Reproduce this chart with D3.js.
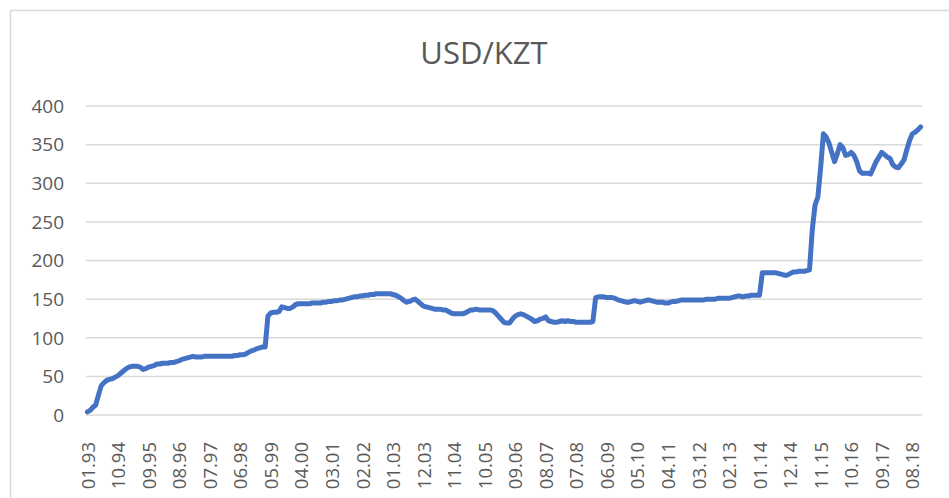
<!DOCTYPE html>
<html>
<head>
<meta charset="utf-8">
<script src="https://cdn.jsdelivr.net/npm/d3@7"></script>
<style>
  body { margin: 0; background: #fff; }
  text { font-family: "Open Sans", sans-serif; fill: #595959; }
</style>
</head>
<body>
<div id="chart"></div>
<script>
var title = "USD/KZT";

// one label every 11 months, first label on the first point
var tickLabels = ["01.93", "10.94", "09.95", "08.96", "07.97", "06.98", "05.99", "04.00",
    "03.01", "02.02", "01.03", "12.03", "11.04", "10.05", "09.06", "08.07", "07.08",
    "06.09", "05.10", "04.11", "03.12", "02.13", "01.14", "12.14", "11.15", "10.16",
    "09.17", "08.18"];
var tickStep = 11;

var yTicks = [0, 50, 100, 150, 200, 250, 300, 350, 400];

// monthly rate, one row per label interval
var rate = [
    4, 6, 10, 13, 26, 38, 42, 45, 46, 47, 49,
    51, 54, 57, 60, 62, 63, 63, 63, 62, 59, 60,
    62, 63, 64, 66, 66, 67, 67, 67, 68, 68, 69,
    70, 72, 73, 74, 75, 76, 75, 75, 75, 76, 76,
    76, 76, 76, 76, 76, 76, 76, 76, 76, 77, 77,
    78, 78, 79, 81, 83, 84, 86, 87, 88, 88, 128,
    132, 133, 133, 134, 140, 139, 138, 138, 140, 143, 144,
    144, 144, 144, 144, 145, 145, 145, 145, 146, 146, 147,
    147, 148, 148, 149, 149, 150, 151, 152, 153, 153, 154,
    154, 155, 155, 156, 156, 157, 157, 157, 157, 157, 157,
    156, 155, 153, 151, 148, 146, 147, 149, 150, 147, 144,
    141, 140, 139, 138, 137, 137, 137, 136, 136, 134, 132,
    131, 131, 131, 131, 132, 134, 136, 136, 137, 136, 136,
    136, 136, 136, 135, 132, 128, 124, 120, 119, 119, 124,
    128, 130, 131, 130, 128, 126, 124, 121, 122, 124, 125,
    127, 122, 121, 120, 120, 121, 122, 121, 122, 121, 121,
    120, 120, 120, 120, 120, 120, 121, 152, 153, 153, 153,
    152, 152, 152, 151, 149, 148, 147, 146, 146, 147, 148,
    147, 146, 147, 148, 149, 148, 147, 146, 146, 146, 145,
    145, 146, 147, 147, 148, 149, 149, 149, 149, 149, 149,
    149, 149, 149, 150, 150, 150, 150, 151, 151, 151, 151,
    151, 152, 153, 154, 154, 153, 154, 154, 155, 155, 155,
    155, 184, 184, 184, 184, 184, 184, 183, 182, 181, 181,
    183, 185, 185, 186, 186, 186, 187, 188, 240, 272, 282,
    320, 364, 360, 352, 340, 328, 338, 350, 346, 336, 337,
    340, 336, 328, 316, 313, 313, 313, 312, 320, 328, 334,
    340, 337, 334, 332, 324, 321, 320, 325, 330, 343, 355,
    364, 366, 369, 373
];

var width = 949, height = 498;

var svg = d3.select("#chart").append("svg")
    .attr("width", width)
    .attr("height", height);

// chart area border
svg.append("rect")
    .attr("x", 10.5).attr("y", 10.5)
    .attr("width", 952).attr("height", 500)
    .attr("fill", "#fff")
    .attr("stroke", "#d9d9d9")
    .attr("stroke-width", 1.5);

svg.append("text")
    .attr("x", 484).attr("y", 64)
    .attr("text-anchor", "middle")
    .style("font-size", "31px")
    .text(title);

var x = d3.scalePoint()
    .domain(d3.range(rate.length))
    .range([86, 922])
    .padding(0.5);

var y = d3.scaleLinear()
    .domain([0, 400])
    .range([415, 106]);

// gridlines
svg.append("g").selectAll("line")
    .data(yTicks)
    .enter().append("line")
    .attr("x1", 86).attr("x2", 922)
    .attr("y1", function(d) { return y(d); })
    .attr("y2", function(d) { return y(d); })
    .attr("stroke", "#d9d9d9")
    .attr("stroke-width", 1.5);

// y labels
svg.append("g").selectAll("text")
    .data(yTicks)
    .enter().append("text")
    .attr("x", 64)
    .attr("y", function(d) { return y(d); })
    .attr("dy", "0.36em")
    .attr("text-anchor", "end")
    .style("font-size", "19px")
    .text(function(d) { return d; });

// x axis, labels turned on their side
var xAxis = d3.axisBottom(x)
    .tickValues(tickLabels.map(function(d, i) { return i * tickStep; }))
    .tickFormat(function(d) { return tickLabels[d / tickStep]; })
    .tickSize(0);

var gx = svg.append("g")
    .attr("transform", "translate(0,415)")
    .call(xAxis);
gx.select(".domain").remove();
gx.selectAll("text")
    .attr("transform", "rotate(-90)")
    .attr("x", -27)
    .attr("y", 0)
    .attr("dy", "0.36em")
    .attr("text-anchor", "end")
    .style("font-size", "18.5px")
    .style("font-family", "'Open Sans', sans-serif")
    .attr("fill", "#595959");

var line = d3.line()
    .x(function(d, i) { return x(i); })
    .y(function(d) { return y(d); });

svg.append("path")
    .datum(rate)
    .attr("d", line)
    .attr("fill", "none")
    .attr("stroke", "#4472c4")
    .attr("stroke-width", 5)
    .attr("stroke-linejoin", "round")
    .attr("stroke-linecap", "round");
</script>
</body>
</html>
